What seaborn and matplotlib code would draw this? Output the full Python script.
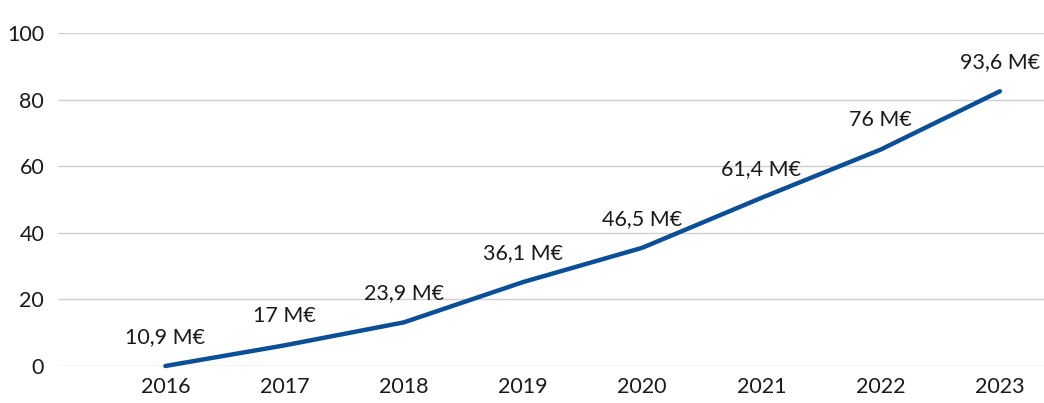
import pandas as pd
import matplotlib.pyplot as plt
import seaborn as sns

# values
years = [2016, 2017, 2018, 2019, 2020, 2021, 2022, 2023]
line_values = [0, 6.2, 13.1, 25.2, 35.5, 50.5, 65.0, 82.5]
labels = ["10,9 M€", "17 M€", "23,9 M€", "36,1 M€", "46,5 M€", "61,4 M€", "76 M€", "93,6 M€"]
y_ticks = [0, 20, 40, 60, 80, 100]

LINE_COLOR = "#0b4f97"
TEXT_COLOR = "#1a1a1a"

sns.set_theme(style="white")
plt.rcParams['font.family'] = ['Lato', 'DejaVu Sans']

df = pd.DataFrame({"year": years, "value": line_values, "label": labels})

fig = plt.figure(figsize=(10.44, 4.03), dpi=100)
ax = fig.add_axes([0.0556, 0.0918, 0.9444, 0.8263])

sns.lineplot(data=df, x="year", y="value", color=LINE_COLOR, linewidth=3.2,
             ax=ax, clip_on=False, solid_capstyle="round")

for _, row in df.iterrows():
    ax.annotate(row["label"], (row["year"], row["value"]), xytext=(0, 21),
                textcoords="offset points", ha="center", va="center",
                fontsize=15.5, color=TEXT_COLOR)

ax.set_xlim(2016 - 0.9, 2023 + 0.37)
ax.set_ylim(0, 100)
ax.set_yticks(y_ticks)
ax.set_xticks(years)
ax.set_xticklabels([str(y) for y in years])
ax.grid(axis="y", color="#cfcfcf", linewidth=1)
ax.set_axisbelow(True)
for s in ax.spines.values():
    s.set_visible(False)
ax.tick_params(axis="y", length=0, pad=10, labelsize=15.5, labelcolor=TEXT_COLOR)
ax.tick_params(axis="x", length=0, pad=8, labelsize=15.5, labelcolor=TEXT_COLOR)
ax.set_xlabel("")
ax.set_ylabel("")

plt.savefig("out.png", dpi=100)
plt.close()
